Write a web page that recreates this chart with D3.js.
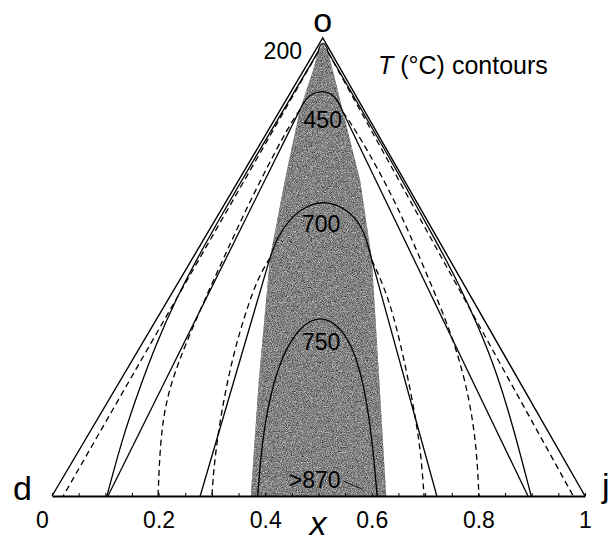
<!DOCTYPE html>
<html>
<head>
<meta charset="utf-8">
<script src="https://cdn.jsdelivr.net/npm/d3@7"></script>
<style>
  body { margin: 0; background: #fff; }
  svg { display: block; font-family: "Liberation Sans", Arial, Helvetica, sans-serif; }
</style>
</head>
<body>
<svg id="chart" width="611" height="543"></svg>
<script>
// x = jadeite fraction along the base, q = height towards the o apex (0..1)

// triangle corners d, o, j
var corners = [[0, 0], [0.508, 1], [1, 0]];

// shaded region
var greyZone = [
  [0.373, 0], [0.388, 0.253], [0.409, 0.520], [0.437, 0.690], [0.465, 0.843],
  [0.490, 0.930], [0.499, 0.969], [0.508, 0.987], [0.518, 0.969], [0.529, 0.919],
  [0.546, 0.838], [0.578, 0.690], [0.600, 0.517], [0.614, 0.253], [0.627, 0]
];

// domes (solid)
var dome200 = [[0.499, 0.969], [0.503, 0.985], [0.508, 0.989], [0.514, 0.985], [0.518, 0.969]];
var dome450 = [[0.465, 0.843], [0.476, 0.868], [0.492, 0.881], [0.508, 0.884], [0.523, 0.880], [0.537, 0.863], [0.546, 0.838]];
var dome700 = [[0.409, 0.520], [0.422, 0.563], [0.445, 0.604], [0.475, 0.632], [0.507, 0.644], [0.540, 0.634], [0.568, 0.610], [0.588, 0.572], [0.600, 0.515]];
var dome750 = [[0.386, 0], [0.394, 0.120], [0.410, 0.225], [0.433, 0.310], [0.465, 0.370], [0.503, 0.395],
  [0.542, 0.370], [0.570, 0.310], [0.588, 0.225], [0.601, 0.120], [0.610, 0]];

// 200
var solid200L = [[0.499, 0.969], [0.400, 0.777], [0.280, 0.537], [0.232, 0.428], [0.196, 0.334], [0.165, 0.238], [0.133, 0.130], [0.103, 0]];
var dashed200L = [[0.499, 0.969], [0.021, 0]];
var solid200R = [[0.518, 0.969], [0.625, 0.756], [0.730, 0.537], [0.762, 0.465], [0.797, 0.378], [0.835, 0.269], [0.869, 0.135], [0.899, 0]];
var dashed200R = [[0.518, 0.969], [0.978, 0]];

// 450
var solid450L = [[0.465, 0.843], [0.105, 0]];
var dashed450L = [[0.465, 0.843], [0.440, 0.800], [0.372, 0.646], [0.329, 0.537], [0.286, 0.428], [0.238, 0.297],
  [0.214, 0.210], [0.203, 0.120], [0.199, 0]];
var solid450R = [[0.546, 0.838], [0.893, 0]];
var dashed450R = [[0.546, 0.838], [0.575, 0.790], [0.644, 0.646], [0.700, 0.493], [0.755, 0.341], [0.784, 0.210], [0.797, 0.100], [0.801, 0]];

// 700
var solid700L = [[0.409, 0.520], [0.278, 0]];
var dashed700L = [[0.409, 0.520], [0.388, 0.480], [0.364, 0.405], [0.338, 0.300], [0.317, 0.180], [0.304, 0.070], [0.300, 0]];
var solid700R = [[0.600, 0.515], [0.722, 0]];
var dashed700R = [[0.600, 0.515], [0.622, 0.460], [0.645, 0.380], [0.675, 0.220], [0.692, 0.100], [0.698, 0]];

// contour labels (text, x, q)
var contourLabels = [
  ["200", 0.433, 0.954],
  ["450", 0.508, 0.803],
  ["700", 0.505, 0.576],
  ["750", 0.505, 0.319],
  [">870", 0.493, 0.018]
];
var leader870 = [[0.546, 0.033], [0.582, 0.015]];

var xTicks = [0, 0.2, 0.4, 0.6, 0.8, 1];

var svg = d3.select('#chart');

var x = d3.scaleLinear().domain([0, 1]).range([52, 585]);
var y = d3.scaleLinear().domain([0, 1]).range([496, 38]);

var line = d3.line()
  .x(function(d) { return x(d[0]); })
  .y(function(d) { return y(d[1]); })
  .curve(d3.curveBasis);

var straight = d3.line()
  .x(function(d) { return x(d[0]); })
  .y(function(d) { return y(d[1]); });

// stippled grey like the printed screen
var defs = svg.append('defs');
var f = defs.append('filter').attr('id', 'grain')
  .attr('color-interpolation-filters', 'sRGB')
  .attr('x', 0).attr('y', 0).attr('width', '100%').attr('height', '100%');
f.append('feTurbulence').attr('type', 'fractalNoise').attr('baseFrequency', 1.2)
  .attr('numOctaves', 1).attr('seed', 4).attr('result', 'noise');
f.append('feColorMatrix').attr('in', 'noise').attr('type', 'matrix')
  .attr('values', '0.33 0.33 0.33 0 0  0.33 0.33 0.33 0 0  0.33 0.33 0.33 0 0  0 0 0 0 1')
  .attr('result', 'grey');
var ct = f.append('feComponentTransfer').attr('in', 'grey').attr('result', 'contrast');
['feFuncR', 'feFuncG', 'feFuncB'].forEach(function(k) {
  ct.append(k).attr('type', 'linear').attr('slope', 2.4).attr('intercept', -0.68);
});
f.append('feComposite').attr('in', 'contrast').attr('in2', 'SourceGraphic').attr('operator', 'in');

svg.append('path')
  .datum(greyZone)
  .attr('d', straight)
  .attr('fill', '#858585')
  .attr('stroke', 'none');
svg.append('path')
  .datum(greyZone)
  .attr('d', straight)
  .attr('fill', '#858585')
  .attr('stroke', 'none')
  .attr('opacity', 0.7)
  .attr('filter', 'url(#grain)');

// outer triangle sides
svg.append('path')
  .datum(corners)
  .attr('d', straight)
  .attr('fill', 'none')
  .attr('stroke', '#000')
  .attr('stroke-width', 1.4)
  .attr('stroke-linejoin', 'miter');

var solidLines = [dome200, dome450, dome700, dome750,
  solid200L, solid200R, solid450L, solid450R, solid700L, solid700R];
var dashedLines = [dashed200L, dashed200R, dashed450L, dashed450R, dashed700L, dashed700R];

svg.append('g').selectAll('path')
  .data(solidLines)
  .join('path')
  .attr('d', line)
  .attr('fill', 'none')
  .attr('stroke', '#000')
  .attr('stroke-width', 1.3);

svg.append('g').selectAll('path')
  .data(dashedLines)
  .join('path')
  .attr('d', line)
  .attr('fill', 'none')
  .attr('stroke', '#000')
  .attr('stroke-width', 1.3)
  .attr('stroke-dasharray', '6,4');

// base axis
var axis = svg.append('g')
  .attr('transform', 'translate(0,' + y(0) + ')')
  .call(d3.axisBottom(x).tickValues(xTicks).tickSize(0).tickPadding(16).tickFormat(d3.format('~g')));
axis.select('.domain').attr('stroke-width', 2);
axis.selectAll('text')
  .attr('font-size', 23)
  .attr('font-family', '"Liberation Sans", Arial, sans-serif')
  .attr('fill', '#000')
  .attr('dx', function(d) { return d === 0 ? -10 : 0; });

// minor ticks pointing inward
svg.append('g')
  .attr('transform', 'translate(0,' + y(0) + ')')
  .call(d3.axisTop(x).ticks(20).tickSize(3).tickFormat(''))
  .call(function(g) { g.select('.domain').remove(); })
  .selectAll('line').attr('stroke-width', 1);

// contour labels
svg.append('g').selectAll('text')
  .data(contourLabels)
  .join('text')
  .attr('x', function(d) { return x(d[1]); })
  .attr('y', function(d) { return y(d[2]); })
  .attr('text-anchor', 'middle')
  .attr('font-size', 23)
  .text(function(d) { return d[0]; });

svg.append('path')
  .datum(leader870)
  .attr('d', straight)
  .attr('stroke', '#000')
  .attr('stroke-width', 0.8);

// corner labels
svg.append('text').attr('x', x(0.508)).attr('y', 32).attr('text-anchor', 'middle').attr('font-size', 34).text('o');
svg.append('text').attr('x', 13).attr('y', 500).attr('font-size', 34).text('d');
svg.append('text').attr('x', 602).attr('y', 497).attr('font-size', 34).text('j');
svg.append('text').attr('x', 318).attr('y', 535).attr('text-anchor', 'middle')
  .attr('font-size', 34).attr('font-style', 'italic').text('x');

var ttl = svg.append('text').attr('x', 378).attr('y', 74).attr('font-size', 25);
ttl.append('tspan').attr('font-style', 'italic').text('T');
ttl.append('tspan').text(' (°C) contours');
</script>
</body>
</html>
